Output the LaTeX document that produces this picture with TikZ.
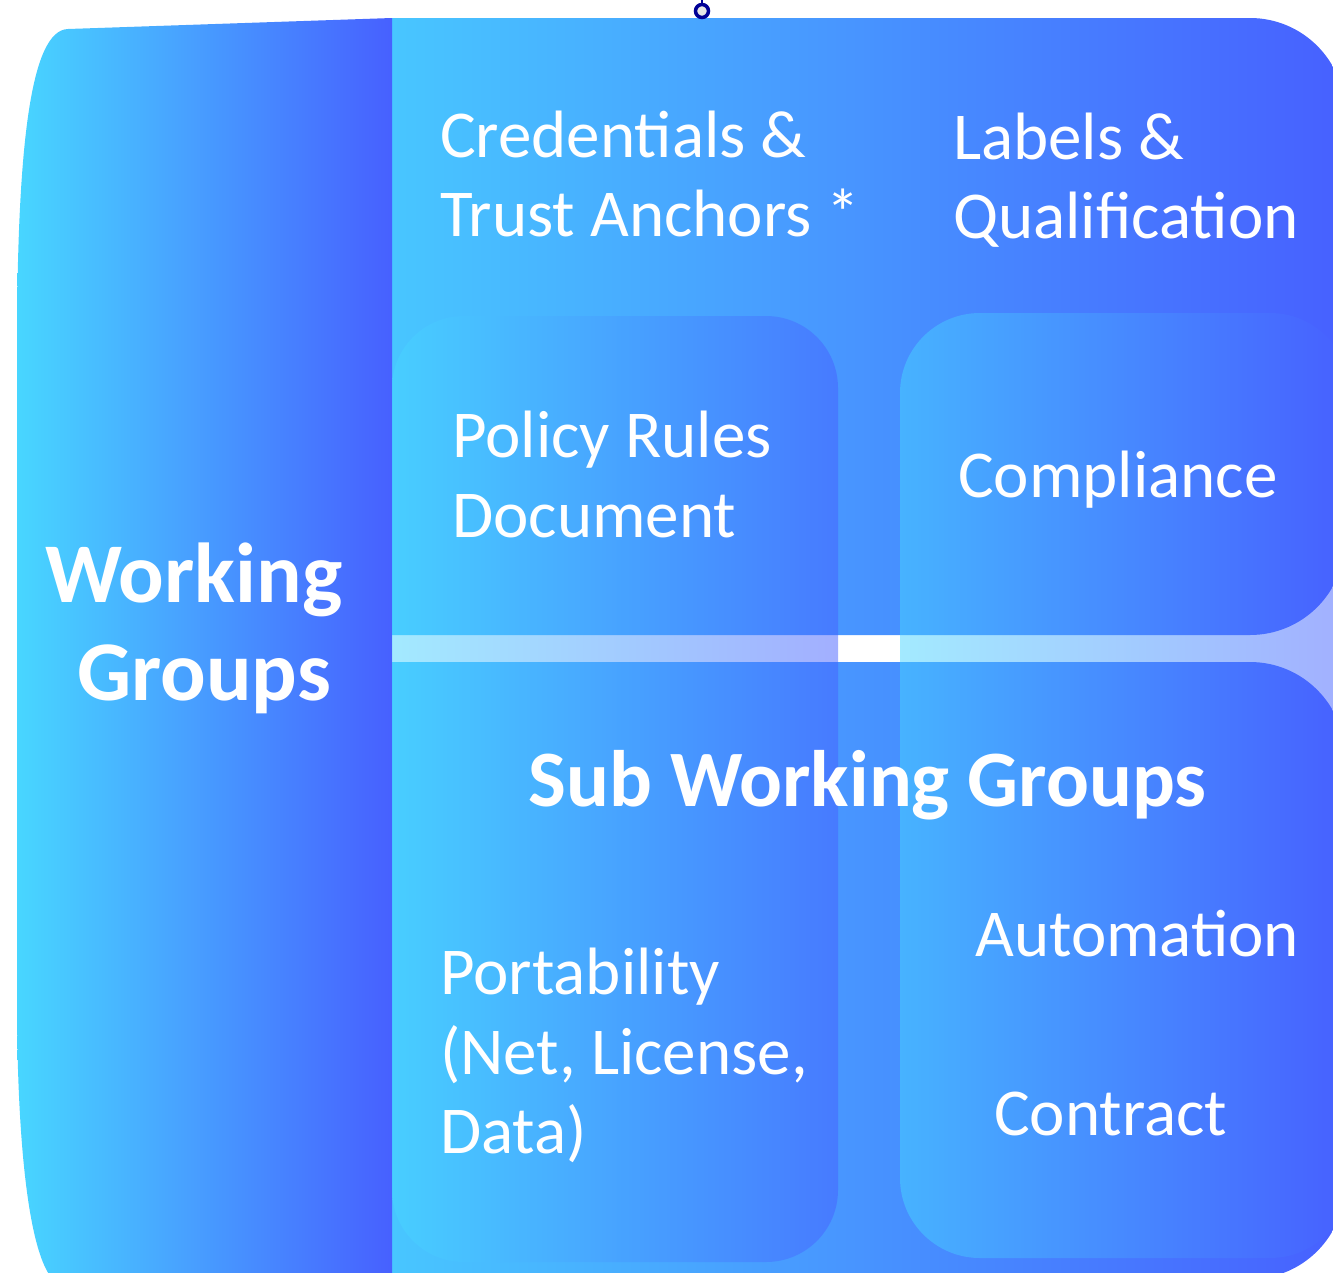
\documentclass[tikz,border=0pt]{standalone}
\usepackage{fontspec}
\setmainfont{Carlito}
\definecolor{cy}{RGB}{72,214,255}
\definecolor{cym}{RGB}{72,198,255}
\definecolor{bl}{RGB}{71,96,255}
\definecolor{navyring}{RGB}{0,0,150}
\begin{document}
\begin{tikzpicture}[x=1pt,y=-1pt,
  mainshade/.style={left color=cym, right color=bl},
  panelshade/.style={left color=cy, right color=bl},
  subbox/.style={left color=cy, right color=bl, fill opacity=0.5},
  txt/.style={text=white, inner sep=0pt, anchor=base west, font=\fontsize{67}{80}\selectfont},
  bigtxt/.style={text=white, inner sep=0pt, anchor=base west, font=\fontsize{85}{100}\selectfont\bfseries},
  subtxt/.style={text=white, inner sep=0pt, anchor=base west, font=\fontsize{80}{95}\selectfont\bfseries}]
\useasboundingbox (0,0) rectangle (1333,1272);
\clip (0,0) rectangle (1333,1272);
\fill[white] (0,0) rectangle (1333,1272);
% main shapes (upper and lower halves)
\path[mainshade] (392,18) -- (1250,18) arc[start angle=-90,end angle=0,radius=95]
  -- (1345,540) arc[start angle=0,end angle=90,radius=95] -- (392,635) -- cycle;
\path[mainshade] (392,662) -- (1250,662) arc[start angle=-90,end angle=0,radius=95]
  -- (1345,1184) arc[start angle=0,end angle=90,radius=95] -- (392,1279) -- cycle;
% left panel
\path[panelshade] (392,18) -- (68,29) .. controls (30,30) and (17,150) .. (17,350)
  -- (17,1000) .. controls (17,1150) and (30,1272) .. (60,1285) -- (392,1285) -- cycle;
% sub boxes
\path[subbox, rounded corners=72] (392,316) rectangle (838,1262);
\path[subbox, rounded corners=80] (900,313) rectangle (1350,1258);
% small handle
\draw[navyring, line width=1.5pt] (702,0) -- (702,4);
\draw[navyring, line width=3.5pt, fill=gray!20] (702,11) circle[radius=6.5];
% texts
\node[txt] (cred1) at (440,157) {Credentials \&};
\node[txt] (cred2) at (440,236) {Trust Anchors *};
\node[txt] (lab1) at (953,159) {Labels \&};
\node[txt] (lab2) at (953,238) {Qualification};
\node[txt] (pol1) at (452,457) {Policy Rules};
\node[txt] (pol2) at (452,537) {Document};
\node[txt] (comp) at (958,497) {Compliance};
\node[bigtxt] (wg1) at (45,602) {Working};
\node[bigtxt] (wg2) at (77,700) {Groups};
\node[subtxt] (swg) at (528,806) {Sub Working Groups};
\node[txt] (port1) at (440,994) {Portability};
\node[txt] (port2) at (440,1074) {(Net, License,};
\node[txt] (port3) at (440,1153) {Data)};
\node[txt] (auto) at (975,956) {Automation};
\node[txt] (contr) at (994,1135) {Contract};
\end{tikzpicture}
\end{document}
